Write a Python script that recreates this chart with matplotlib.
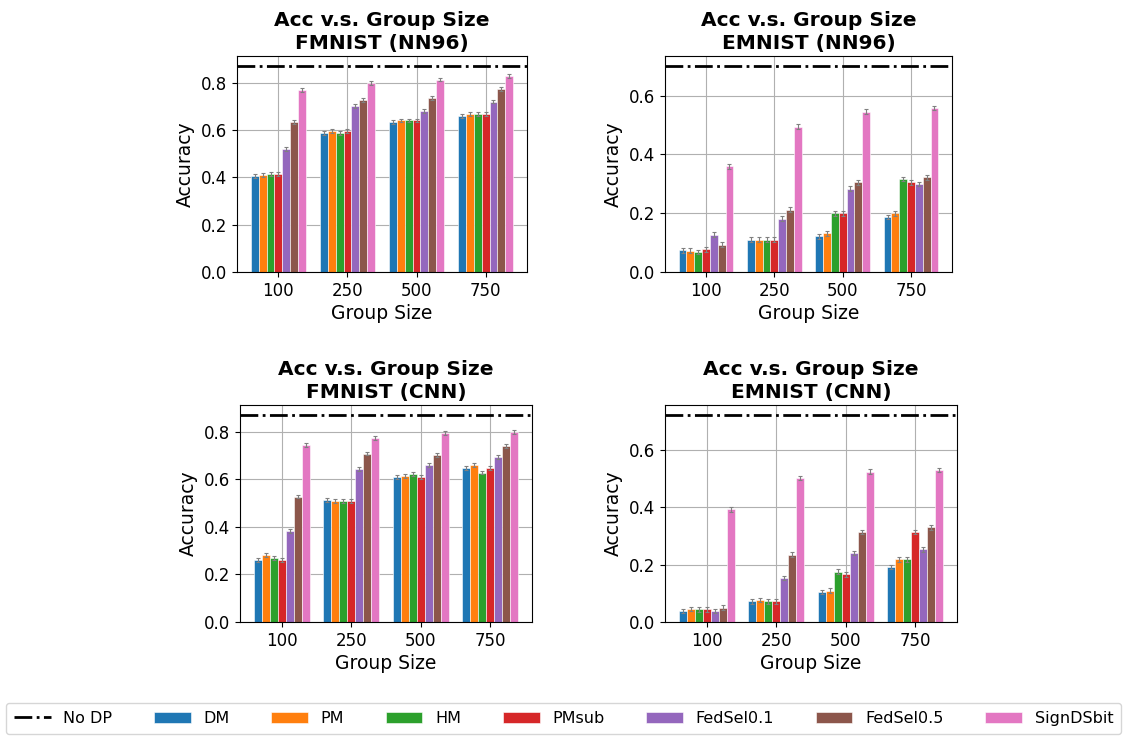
import numpy as np
import matplotlib
matplotlib.use("Agg")
import matplotlib.pyplot as plt

# ------------------------------------------------------------
# Data
# ------------------------------------------------------------

group_sizes = ["100", "250", "500", "750"]
methods = ["DM", "PM", "HM", "PMsub", "FedSel0.1", "FedSel0.5", "SignDSbit"]
colors = ["#1f77b4", "#ff7f0e", "#2ca02c", "#d62728",
          "#9467bd", "#8c564b", "#e377c2"]

# rows = methods, columns = group sizes
fmnist_nn96 = [
    [0.406, 0.587, 0.634, 0.661],
    [0.411, 0.596, 0.641, 0.668],
    [0.413, 0.587, 0.641, 0.668],
    [0.413, 0.596, 0.641, 0.668],
    [0.520, 0.703, 0.682, 0.721],
    [0.634, 0.727, 0.735, 0.773],
    [0.769, 0.800, 0.814, 0.830],
]
emnist_nn96 = [
    [0.074, 0.110, 0.121, 0.187],
    [0.072, 0.110, 0.132, 0.200],
    [0.068, 0.110, 0.200, 0.316],
    [0.077, 0.110, 0.200, 0.305],
    [0.127, 0.181, 0.284, 0.299],
    [0.093, 0.212, 0.305, 0.322],
    [0.360, 0.494, 0.545, 0.558],
]
fmnist_cnn = [
    [0.260, 0.515, 0.609, 0.648],
    [0.281, 0.509, 0.613, 0.662],
    [0.268, 0.509, 0.623, 0.629],
    [0.261, 0.509, 0.609, 0.648],
    [0.382, 0.643, 0.662, 0.695],
    [0.528, 0.709, 0.703, 0.742],
    [0.744, 0.775, 0.797, 0.799],
]
emnist_cnn = [
    [0.039, 0.072, 0.104, 0.191],
    [0.045, 0.076, 0.109, 0.218],
    [0.044, 0.072, 0.175, 0.218],
    [0.044, 0.072, 0.166, 0.314],
    [0.039, 0.154, 0.241, 0.253],
    [0.050, 0.235, 0.314, 0.330],
    [0.392, 0.502, 0.524, 0.530],
]

no_dp = {"FMNIST (NN96)": 0.87, "EMNIST (NN96)": 0.70,
         "FMNIST (CNN)": 0.87, "EMNIST (CNN)": 0.72}
err = 0.008

panels = [
    ("FMNIST (NN96)", fmnist_nn96),
    ("EMNIST (NN96)", emnist_nn96),
    ("FMNIST (CNN)", fmnist_cnn),
    ("EMNIST (CNN)", emnist_cnn),
]

# ------------------------------------------------------------
# Plot
# ------------------------------------------------------------

fig = plt.figure(figsize=(11.27, 7.36), dpi=100)

# axes boxes in pixels: left, top, right, bottom
boxes = [(237, 56, 527, 272), (665, 56, 952, 272),
         (240, 405, 532, 622), (665, 405, 957, 622)]

x = np.arange(len(group_sizes))
w = 0.8 / len(methods)

for (name, vals), (l, t, r, b) in zip(panels, boxes):
    ax = fig.add_axes([l / 1127, 1 - b / 736, (r - l) / 1127, (b - t) / 736])
    ax.set_axisbelow(True)
    ax.grid(True, color="#b0b0b0", linewidth=0.8)

    ax.axhline(no_dp[name], color="black", linestyle="-.",
               linewidth=2, label="No DP")

    for i, m in enumerate(methods):
        ax.bar(x + (i - 3) * w, vals[i], width=w, color=colors[i],
               edgecolor="white", linewidth=0.4, label=m,
               yerr=err, capsize=1.5,
               error_kw=dict(ecolor="gray", elinewidth=0.8, capthick=0.8))

    ax.set_xticks(x)
    ax.set_xticklabels(group_sizes)
    ax.set_ylim(0, no_dp[name] * 1.05)
    ax.set_xlim(-0.6, 3.6)
    ax.tick_params(labelsize=12)
    ax.set_xlabel("Group Size", fontsize=13.5, labelpad=3)
    ax.set_ylabel("Accuracy", fontsize=13.5)
    ax.set_title("Acc v.s. Group Size\n" + name, fontsize=14.5,
                 fontweight="bold", linespacing=1.25, pad=5)

handles, labels = ax.get_legend_handles_labels()
fig.legend(handles, labels, ncol=8, loc="lower center",
           bbox_to_anchor=(0.5, -0.008), fontsize=11.5,
           frameon=True, handlelength=2.3, handletextpad=0.8,
           columnspacing=2.6, borderpad=0.5)

plt.savefig("out.png", dpi=100)
